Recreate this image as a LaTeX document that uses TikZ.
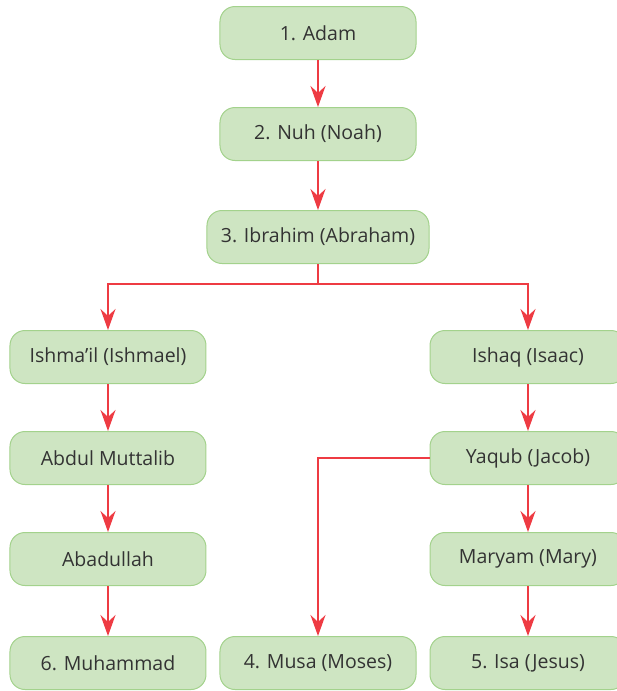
\documentclass[tikz,border=0pt]{standalone}
\usepackage{fontspec}
\setmainfont{Open Sans}
\usetikzlibrary{positioning, arrows.meta}

\definecolor{boxfill}{HTML}{CEE5C2}
\definecolor{boxline}{HTML}{A3D28C}
\definecolor{linkred}{HTML}{EE3B43}
\definecolor{txt}{HTML}{333333}

\begin{document}
\begin{tikzpicture}[
    >={Stealth[length=21pt, width=15pt, inset=7pt]},
    node distance=47pt and 13pt,
    person/.style={rectangle, rounded corners=15pt, draw=boxline, line width=1pt, fill=boxfill,
        minimum width=196pt, minimum height=53pt, inner sep=0pt, text=txt,
        font=\fontsize{19.5}{22}\selectfont},
    link/.style={draw=linkred, line width=2.3pt},
    arrow/.style={link, ->}
]

% Frame of the picture
\useasboundingbox (-318pt,33pt) rectangle (299pt,-658pt);
\clip (-318pt,33pt) rectangle (299pt,-658pt);

% Main line
\node[person] (adam) {1. Adam};
\node[person, below=of adam] (nuh) {2. Nuh (Noah)};
\node[person, below=49pt of nuh, minimum width=222pt] (ibrahim) {3. Ibrahim (Abraham)};

% Two branches
\node[person, below left=66pt and 0pt of ibrahim] (ishmail) {Ishma’il (Ishmael)};
\node[person, below right=66pt and 0pt of ibrahim] (ishaq) {Ishaq (Isaac)};

\node[person, below=of ishmail] (abdul) {Abdul Muttalib};
\node[person, below=of abdul] (abadullah) {Abadullah};
\node[person, below=50pt of abadullah] (muhammad) {6. Muhammad};

\node[person, below=of ishaq] (yaqub) {Yaqub (Jacob)};
\node[person, below=of yaqub] (maryam) {Maryam (Mary)};
\node[person, below=50pt of maryam] (isa) {5. Isa (Jesus)};
\node[person] (musa) at (ibrahim |- isa) {4. Musa (Moses)};

% Links
\coordinate (fork) at ([yshift=-20pt]ibrahim.south);
\draw[arrow] (adam) -- (nuh);
\draw[arrow] (nuh) -- (ibrahim);
\draw[link] (ibrahim) -- (fork);
\draw[arrow] (fork) -| (ishmail);
\draw[arrow] (fork) -| (ishaq);
\draw[arrow] (ishmail) -- (abdul);
\draw[arrow] (abdul) -- (abadullah);
\draw[arrow] (abadullah) -- (muhammad);
\draw[arrow] (ishaq) -- (yaqub);
\draw[arrow] (yaqub) -- (maryam);
\draw[arrow] (maryam) -- (isa);
\draw[arrow] (yaqub) -| (musa);

\end{tikzpicture}
\end{document}
